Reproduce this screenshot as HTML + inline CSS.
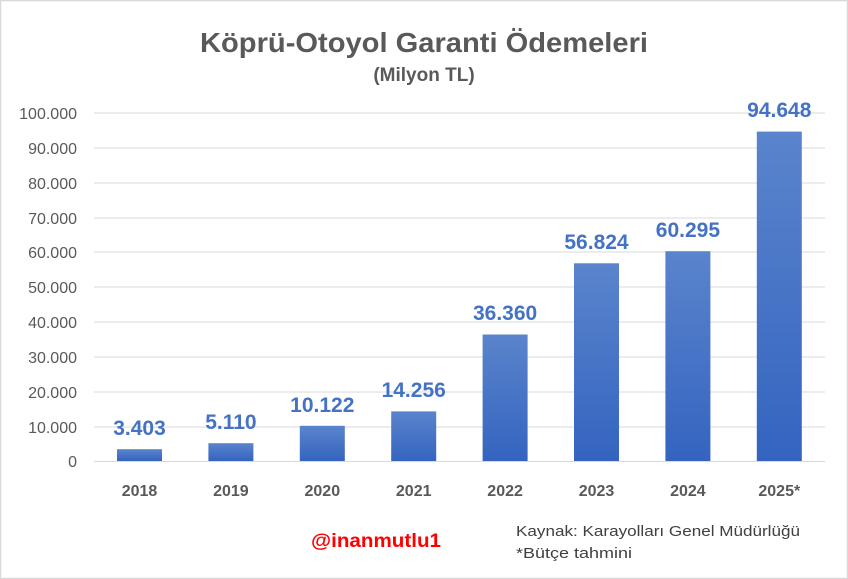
<!DOCTYPE html>
<html><head><meta charset="utf-8"><style>
html,body{margin:0;padding:0;background:#fff;}
svg{display:block;font-family:"Liberation Sans",Arial,sans-serif;}
</style></head><body>
<svg width="848" height="579" viewBox="0 0 848 579" xmlns="http://www.w3.org/2000/svg">
<defs><linearGradient id="g" x1="0" y1="0" x2="0" y2="1"><stop offset="0" stop-color="#5a84cc"/><stop offset="1" stop-color="#3464c0"/></linearGradient></defs>
<rect x="0.5" y="0.5" width="847" height="578" fill="#fff" stroke="#d9d9d9" stroke-width="1.5"/>
<text x="200" y="52" font-size="28" font-weight="bold" fill="#595959" textLength="448" lengthAdjust="spacingAndGlyphs">Köprü-Otoyol Garanti Ödemeleri</text>
<text x="424" y="81" text-anchor="middle" font-size="19" font-weight="bold" fill="#595959">(Milyon TL)</text>
<g stroke="#d9d9d9" stroke-width="1">
<line x1="94" x2="825" y1="113" y2="113"/><line x1="94" x2="825" y1="148" y2="148"/><line x1="94" x2="825" y1="183" y2="183"/><line x1="94" x2="825" y1="218" y2="218"/><line x1="94" x2="825" y1="252" y2="252"/><line x1="94" x2="825" y1="287" y2="287"/><line x1="94" x2="825" y1="322" y2="322"/><line x1="94" x2="825" y1="357" y2="357"/><line x1="94" x2="825" y1="392" y2="392"/><line x1="94" x2="825" y1="427" y2="427"/><line x1="94" x2="825" y1="461.5" y2="461.5"/>
</g>
<g font-size="16" fill="#595959" text-anchor="end">
<text x="77" y="119">100.000</text><text x="77" y="154">90.000</text><text x="77" y="189">80.000</text><text x="77" y="224">70.000</text><text x="77" y="258">60.000</text><text x="77" y="293">50.000</text><text x="77" y="328">40.000</text><text x="77" y="363">30.000</text><text x="77" y="398">20.000</text><text x="77" y="433">10.000</text><text x="77" y="467">0</text>
</g>
<g fill="url(#g)">
<rect x="117" y="449.2" width="45" height="11.8"/>
<rect x="208.4" y="443.2" width="45" height="17.8"/>
<rect x="299.8" y="425.8" width="45" height="35.2"/>
<rect x="391.2" y="411.4" width="45" height="49.6"/>
<rect x="482.6" y="334.5" width="45" height="126.5"/>
<rect x="574" y="263.3" width="45" height="197.7"/>
<rect x="665.4" y="251.2" width="45" height="209.8"/>
<rect x="756.8" y="131.6" width="45" height="329.4"/>
</g>
<g font-size="21" font-weight="bold" fill="#4472c4" text-anchor="middle">
<text x="139.5" y="435">3.403</text>
<text x="230.9" y="429">5.110</text>
<text x="322.3" y="412">10.122</text>
<text x="413.7" y="397">14.256</text>
<text x="505.1" y="320">36.360</text>
<text x="596.5" y="249">56.824</text>
<text x="687.9" y="237">60.295</text>
<text x="779.3" y="117">94.648</text>
</g>
<g font-size="16" font-weight="bold" fill="#595959" text-anchor="middle">
<text x="139.5" y="496">2018</text><text x="230.9" y="496">2019</text><text x="322.3" y="496">2020</text><text x="413.7" y="496">2021</text><text x="505.1" y="496">2022</text><text x="596.5" y="496">2023</text><text x="687.9" y="496">2024</text><text x="779.3" y="496">2025*</text>
</g>
<text x="311" y="547" font-size="19" font-weight="bold" fill="#ff0000" textLength="130" lengthAdjust="spacingAndGlyphs">@inanmutlu1</text>
<text x="516" y="536" font-size="15" fill="#404040" textLength="284" lengthAdjust="spacingAndGlyphs">Kaynak: Karayolları Genel Müdürlüğü</text>
<text x="516" y="558" font-size="15" fill="#404040" textLength="116" lengthAdjust="spacingAndGlyphs">*Bütçe tahmini</text>
</svg>
</body></html>
